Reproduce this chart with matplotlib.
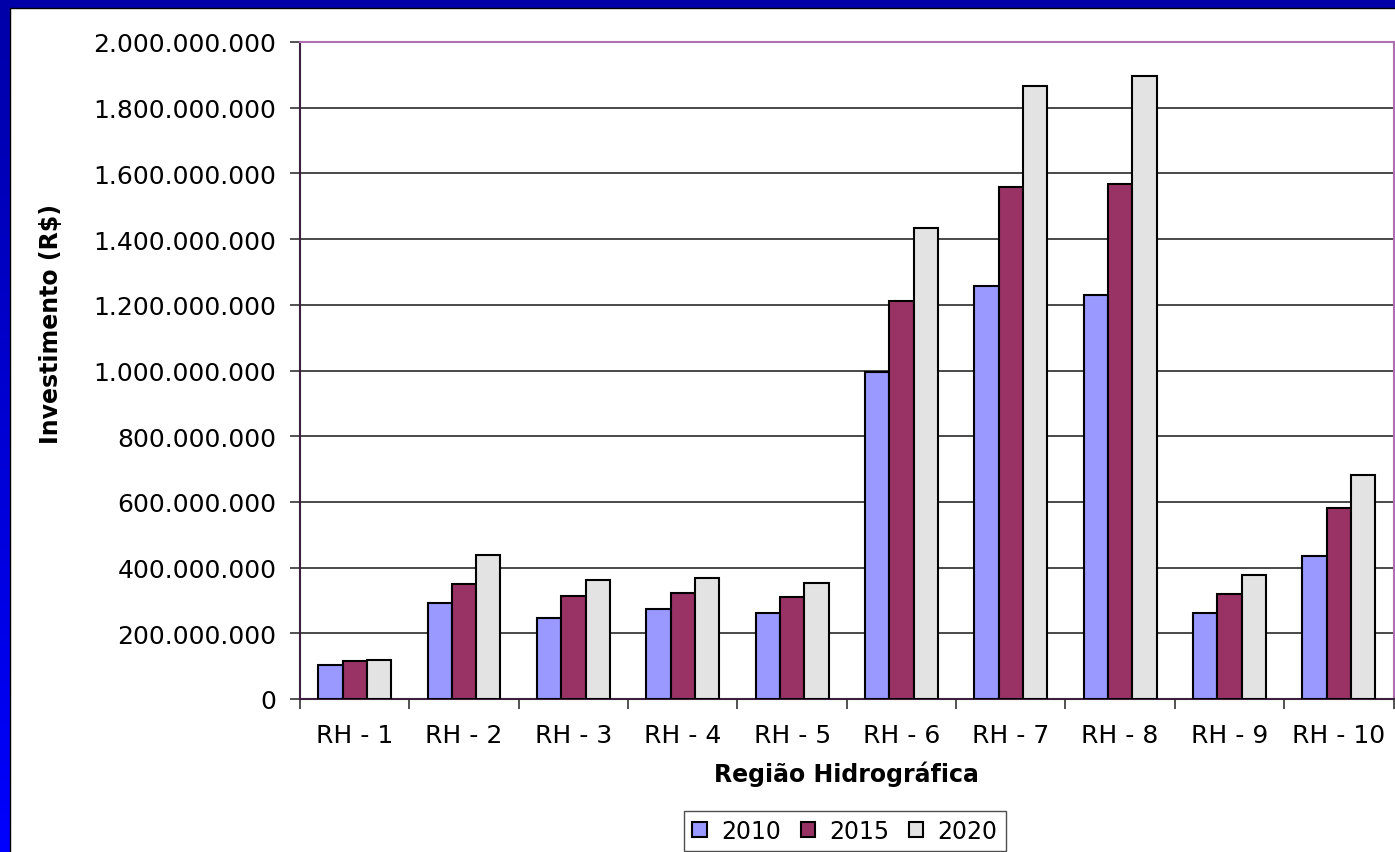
import numpy as np
import matplotlib
matplotlib.use('Agg')
import matplotlib.pyplot as plt
from matplotlib.patches import Rectangle

regioes = ['RH - 1', 'RH - 2', 'RH - 3', 'RH - 4', 'RH - 5',
           'RH - 6', 'RH - 7', 'RH - 8', 'RH - 9', 'RH - 10']
anos = ['2010', '2015', '2020']
# investimento em R$ (em milhoes)
inv_2010 = [104, 292, 247, 274, 261, 995, 1256, 1230, 261, 434]
inv_2015 = [115, 351, 314, 324, 310, 1212, 1560, 1568, 319, 581]
inv_2020 = [119, 439, 363, 367, 354, 1434, 1867, 1897, 377, 683]
y_ticks = [0, 200, 400, 600, 800, 1000, 1200, 1400, 1600, 1800, 2000]

cores = ['#9999FF', '#993366', '#E3E3E3']

plt.rcParams['font.family'] = ['DejaVu Sans']

W, H = 1395, 853
fig = plt.figure(figsize=(W / 100, H / 100), dpi=100)

# fundo: moldura azul em degrade
bg = fig.add_axes([0, 0, 1, 1], zorder=-10)
grad = np.linspace(0, 1, 256).reshape(-1, 1)
cmap = matplotlib.colors.LinearSegmentedColormap.from_list('azul', ['#0000A8', '#0000FF'])
bg.imshow(grad, aspect='auto', cmap=cmap, extent=[0, W, H, 0])
bg.add_patch(Rectangle((10, 9), W, H, facecolor='white', edgecolor='black', lw=1))
bg.set_xlim(0, W)
bg.set_ylim(H, 0)
bg.axis('off')

ax = fig.add_axes([300 / W, 153 / H, 1093.5 / W, 657 / H])
ax.set_facecolor('white')

x = np.arange(len(regioes))
w = 1 / 4.5
series = [inv_2010, inv_2015, inv_2020]
for j, (ano, vals) in enumerate(zip(anos, series)):
    ax.bar(x + (j - 1) * w, np.array(vals) * 1e6, width=w, color=cores[j],
           edgecolor='black', linewidth=1.5, label=ano, zorder=3)

ax.set_xlim(-0.5, len(regioes) - 0.5)
ax.set_ylim(0, 2e9)
ax.set_yticks(np.array(y_ticks) * 1e6)
ax.set_yticklabels([f"{int(v * 1e6):,}".replace(',', '.') for v in y_ticks])
ax.yaxis.grid(True, color='#3a3a3a', lw=1.3, zorder=0)
ax.set_axisbelow(True)

ax.set_xticks(np.arange(-0.5, len(regioes), 1))
ax.set_xticklabels([])
ax.set_xticks(x, minor=True)
ax.set_xticklabels(regioes, minor=True)
ax.tick_params(axis='x', which='major', direction='out', length=7, width=1.2, color='#333333')
ax.tick_params(axis='x', which='minor', length=0, pad=17, labelsize=18)
ax.tick_params(axis='y', direction='out', length=7, width=1.2, color='#333333', pad=10, labelsize=18)

ax.spines['left'].set_color('#3F1F3F')
ax.spines['bottom'].set_color('#3F1F3F')
ax.spines['top'].set_color('#B070B0')
ax.spines['right'].set_color('#B070B0')
for s in ax.spines.values():
    s.set_linewidth(1.5)

fig.text(846 / W, (H - 782) / H, 'Região Hidrográfica', ha='center', va='baseline',
         fontsize=17, fontweight='bold')
fig.text(51 / W, (H - 324) / H, 'Investimento (R$)', ha='center', va='center',
         rotation=90, fontsize=17, fontweight='bold')

leg = fig.legend(loc='center', bbox_to_anchor=(845 / W, (H - 832) / H), ncol=3,
                 fontsize=17, frameon=True, fancybox=False, handlelength=0.6,
                 handleheight=0.6, handletextpad=0.6, columnspacing=0.85,
                 borderpad=0.35, borderaxespad=0)
leg.get_frame().set_edgecolor('#222222')
leg.get_frame().set_linewidth(1)

fig.savefig('out.png', dpi=100)
